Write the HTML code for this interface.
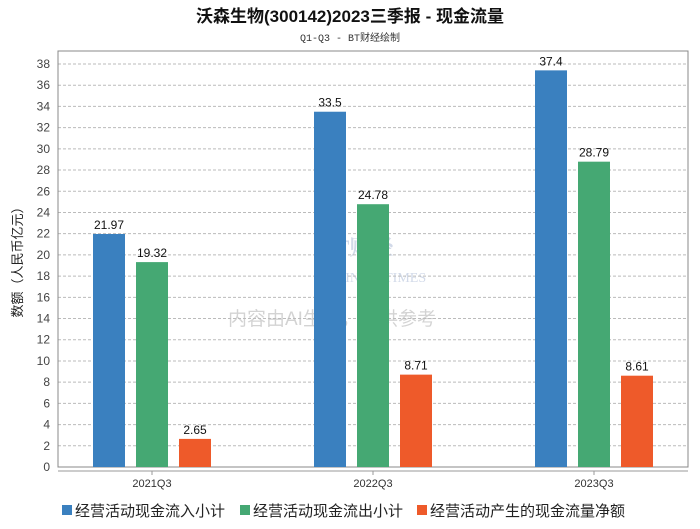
<!DOCTYPE html>
<html><head><meta charset="utf-8"><style>
body{margin:0;background:#fff;font-family:"Liberation Sans","Noto Sans CJK SC",sans-serif;}
</style></head><body>
<svg id="c" width="700" height="524" xmlns="http://www.w3.org/2000/svg">
<text x="350" y="22" text-anchor="middle" font-size="17" font-weight="bold" fill="#111" font-family="Liberation Sans,Noto Sans CJK SC,sans-serif">沃森生物(300142)2023三季报 - 现金流量</text>
<text x="350" y="41" text-anchor="middle" font-size="10" fill="#333" font-family="Liberation Mono,Noto Sans CJK SC,monospace">Q1-Q3 - BT财经绘制</text>
<text transform="translate(22,259) rotate(-90)" text-anchor="middle" font-size="13" fill="#222" font-family="Liberation Sans,Noto Sans CJK SC,sans-serif">数额（人民币亿元）</text>
<g opacity="0.25">
<text x="320" y="255" font-size="22" font-weight="bold" fill="#4a6aa8" font-family="Liberation Serif,Noto Serif CJK SC,serif">BT财经</text>
<text x="318" y="282" font-size="14" fill="#4a6aa8" font-family="Liberation Serif,serif">BUSINESSTIMES</text>
<text x="228" y="325" font-size="19" fill="#555" font-family="Liberation Sans,Noto Sans CJK SC,sans-serif">内容由AI生成，仅供参考</text>
</g>
<g id="plot"></g>
</svg>
<script>
const categories=["2021Q3","2022Q3","2023Q3"];
const inflow=[21.97,33.5,37.4];
const outflow=[19.32,24.78,28.79];
const net=[2.65,8.71,8.61];
const seriesNames=["经营活动现金流入小计","经营活动现金流出小计","经营活动产生的现金流量净额"];
const colors=["#3a80bf","#45a873","#ee5a2a"];
const yTicks=[0,2,4,6,8,10,12,14,16,18,20,22,24,26,28,30,32,34,36,38];
const NS="http://www.w3.org/2000/svg";
const L=58,R=688,T=51,B=467;
const y=v=>B-v*(403/38);
const x=i=>152+i*221;
const g=document.getElementById('plot');
function mk(t,a){const e=document.createElementNS(NS,t);for(const k in a)e.setAttribute(k,a[k]);g.appendChild(e);return e;}
yTicks.forEach(v=>{
  const l=mk('line',{x1:L,x2:R,y1:y(v),y2:y(v),stroke:'#bbb','stroke-dasharray':'3,2','stroke-width':1});
  
  
  const t=mk('text',{x:L-8,y:y(v)+4,'text-anchor':'end','font-size':12,fill:'#444'});
  t.textContent=v;
  
  
});
const fr=mk('rect',{x:L,y:T,width:R-L,height:B-T,fill:'none',stroke:'#888','stroke-width':1});


const xa=mk('line',{x1:L,x2:R,y1:B+4,y2:B+4,stroke:'#999','stroke-width':1});


const series=[inflow,outflow,net];
categories.forEach((c,i)=>{
  const tk=mk('line',{x1:x(i),x2:x(i),y1:B+4,y2:B+8,stroke:'#999'});
  
  
  const t=mk('text',{x:x(i),y:B+20,'text-anchor':'middle','font-size':11,fill:'#333'});
  t.textContent=c;
  
  
  series.forEach((s,j)=>{
    const cx=x(i)+(j-1)*43;
    const r=mk('rect',{x:cx-16,y:y(s[i]),width:32,height:B-y(s[i]),fill:colors[j]});
    
    
    const lt=mk('text',{x:cx,y:y(s[i])-5,'text-anchor':'middle','font-size':12,fill:'#111'});
    lt.textContent=s[i];
    
    
  });
});
const lx=[62,240,417];
seriesNames.forEach((n,j)=>{
  const r=mk('rect',{x:lx[j],y:505,width:10,height:10,fill:colors[j]});
  
  
  const t=mk('text',{x:lx[j]+13,y:516,'font-size':15,fill:'#222'});
  t.textContent=n;
  
  
});
</script>
</body></html>
